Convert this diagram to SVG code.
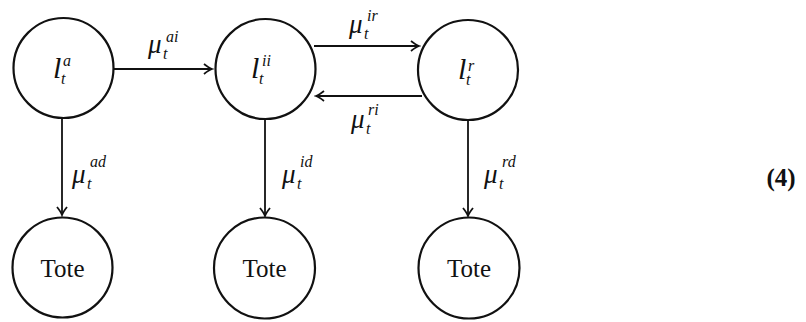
<svg xmlns="http://www.w3.org/2000/svg" width="806" height="322" viewBox="0 0 806 322">
<defs>
<style>
.node{fill:#fff;stroke:#111;stroke-width:2.2}
.edge{fill:none;stroke:#111;stroke-width:1.8}
.m{font-family:"Liberation Serif","DejaVu Serif",serif;font-style:italic;fill:#111}
.big{font-size:30px}
.mu{font-size:27px}
.sc{font-size:16px}
.rm{font-family:"Liberation Serif","DejaVu Serif",serif;fill:#111;font-size:25px}
</style>
<marker id="ah" viewBox="-10 -6 12 12" refX="0" refY="0" markerWidth="12" markerHeight="12" markerUnits="userSpaceOnUse" orient="auto">
<path d="M-8,-5 Q-3,-1 0,0 Q-3,1 -8,5" fill="none" stroke="#111" stroke-width="1.8"/>
</marker>
</defs>
<rect width="806" height="322" fill="#fff"/>
<g id="connectors">
<line class="edge" x1="114" y1="69" x2="212" y2="69" marker-end="url(#ah)"/>
<line class="edge" x1="314" y1="46" x2="419" y2="46" marker-end="url(#ah)"/>
<line class="edge" x1="422" y1="96" x2="316" y2="96" marker-end="url(#ah)"/>
<line class="edge" x1="62" y1="118" x2="62" y2="215" marker-end="url(#ah)"/>
<line class="edge" x1="265" y1="119" x2="265" y2="216" marker-end="url(#ah)"/>
<line class="edge" x1="468" y1="120" x2="468" y2="216" marker-end="url(#ah)"/>
<text class="m mu" x="148" y="53">μ</text><text class="m sc" x="163" y="59">t</text><text class="m sc" x="166" y="42">ai</text>
<text class="m mu" x="349" y="33">μ</text><text class="m sc" x="364" y="39">t</text><text class="m sc" x="367" y="21">ir</text>
<text class="m mu" x="351" y="128">μ</text><text class="m sc" x="366" y="134">t</text><text class="m sc" x="368" y="115">ri</text>
<text class="m mu" x="72" y="183">μ</text><text class="m sc" x="87" y="189">t</text><text class="m sc" x="90" y="167">ad</text>
<text class="m mu" x="282" y="183">μ</text><text class="m sc" x="297" y="189">t</text><text class="m sc" x="300" y="167">id</text>
<text class="m mu" x="484" y="183">μ</text><text class="m sc" x="499" y="189">t</text><text class="m sc" x="502" y="167">rd</text>
</g>
<g id="node-a">
<circle class="node" cx="63.5" cy="68" r="50"/>
<text class="m big" x="53" y="78">l</text><text class="m sc" x="61" y="84">t</text><text class="m sc" x="63" y="66">a</text>
</g>
<g id="node-ii">
<circle class="node" cx="265.5" cy="69" r="50"/>
<text class="m big" x="251" y="78">l</text><text class="m sc" x="259" y="84">t</text><text class="m sc" x="262" y="66">ii</text>
</g>
<g id="node-r">
<circle class="node" cx="468" cy="70" r="50"/>
<text class="m big" x="458" y="79">l</text><text class="m sc" x="466" y="85">t</text><text class="m sc" x="468" y="71">r</text>
</g>
<g id="tote-a">
<circle class="node" cx="62.5" cy="267.5" r="50"/>
<text class="rm" x="62.5" y="277" text-anchor="middle">Tote</text>
</g>
<g id="tote-ii">
<circle class="node" cx="264.5" cy="268" r="50.5"/>
<text class="rm" x="264.5" y="277" text-anchor="middle">Tote</text>
</g>
<g id="tote-r">
<circle class="node" cx="469" cy="268" r="50.5"/>
<text class="rm" x="469" y="277" text-anchor="middle">Tote</text>
</g>
<text x="781" y="186" text-anchor="middle" font-family="'Liberation Serif','DejaVu Serif',serif" font-weight="bold" font-size="25" fill="#111">(4)</text>
</svg>
